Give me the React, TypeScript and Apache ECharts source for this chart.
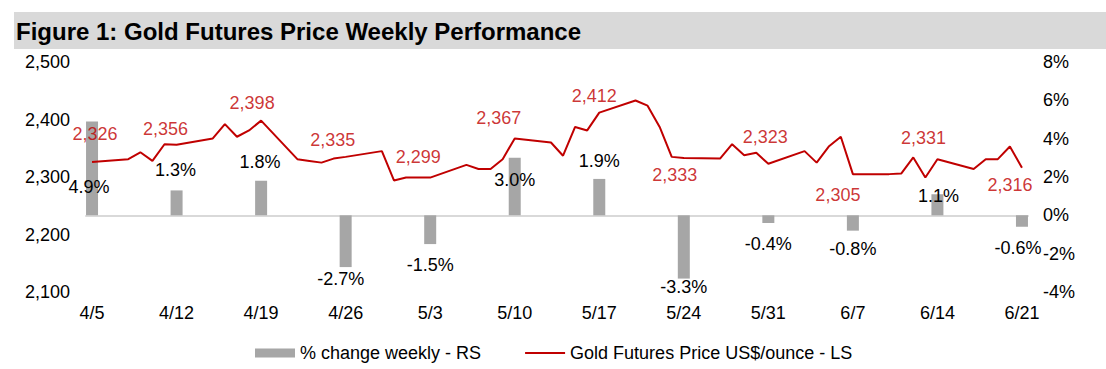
import React, { useEffect, useRef } from "react";
import * as echarts from "echarts";

// ---- Data ----
const START_DATE = [2024, 3, 5]; // 5 April 2024
const END_DATE = [2024, 5, 21]; // 21 June 2024

const priceDates = [
  "4/5", "4/8", "4/9", "4/10", "4/11", "4/12",
  "4/15", "4/16", "4/17", "4/18", "4/19",
  "4/22", "4/23", "4/24", "4/25", "4/26",
  "4/29", "4/30", "5/1", "5/2", "5/3",
  "5/6", "5/7", "5/8", "5/9", "5/10",
  "5/13", "5/14", "5/15", "5/16", "5/17",
  "5/20", "5/21", "5/22", "5/23", "5/24",
  "5/27", "5/28", "5/29", "5/30", "5/31",
  "6/3", "6/4", "6/5", "6/6", "6/7",
  "6/10", "6/11", "6/12", "6/13", "6/14",
  "6/17", "6/18", "6/19", "6/20", "6/21",
];
const prices = [
  2326, 2331, 2343, 2328, 2357, 2356,
  2367, 2392, 2370, 2381, 2398,
  2331, 2328, 2325, 2332, 2335,
  2345, 2294, 2299, 2299, 2299,
  2321, 2314, 2314, 2331, 2367,
  2360, 2337, 2387, 2381, 2412,
  2433, 2424, 2387, 2335, 2333,
  2332, 2357, 2338, 2342, 2323,
  2345, 2325, 2353, 2370, 2305,
  2305, 2306, 2334, 2299, 2331,
  2314, 2331, 2331, 2353, 2316,
];

const weekLabels = ["4/5", "4/12", "4/19", "4/26", "5/3", "5/10", "5/17", "5/24", "5/31", "6/7", "6/14", "6/21"];
const weeklyChange = [4.9, 1.3, 1.8, -2.7, -1.5, 3.0, 1.9, -3.3, -0.4, -0.8, 1.1, -0.6];

const leftTicks = { min: 2100, max: 2500, interval: 100 };
const rightTicks = { min: -4, max: 8, interval: 2 };

// ---- Label placement (style, not data) ----
const LINE_LABEL_OFFSETS = [
  [3, -28], [-11, -16], [-9, -18], [-13, -17], [-12, -21], [-16, -20],
  [-5, -17], [-9, 17], [-3, -27], [-15, 21], [-14, -21], [-12, 17],
];
const BAR_LABEL_OFFSETS = [
  [-3, 75], [-1, -11], [-1, -10], [-5, 3], [0, 12], [0, 31],
  [0, -9], [0, -1], [0, 12], [0, 9], [1, 11], [-4, 12],
];

const FONT = '"Liberation Sans", Arial, Helvetica, sans-serif';
const RED = "#C00000";
const GREY_BAR = "#A6A6A6";

function buildDays(): string[] {
  const out: string[] = [];
  const d = new Date(START_DATE[0], START_DATE[1], START_DATE[2]);
  const end = new Date(END_DATE[0], END_DATE[1], END_DATE[2]);
  while (d.getTime() <= end.getTime()) {
    out.push(`${d.getMonth() + 1}/${d.getDate()}`);
    d.setDate(d.getDate() + 1);
  }
  return out;
}

export default function App() {
  const ref = useRef<HTMLDivElement>(null);

  useEffect(() => {
    if (!ref.current) return;
    const chart = echarts.init(ref.current, undefined, { renderer: "svg" });

    const days = buildDays();
    const priceMap: Record<string, number> = {};
    priceDates.forEach((d, i) => (priceMap[d] = prices[i]));

    const lineData = days.map((d) => (d in priceMap ? priceMap[d] : null));

    const barData = days.map((d) => {
      const w = weekLabels.indexOf(d);
      if (w < 0) return null;
      const v = weeklyChange[w];
      return {
        value: v,
        label: {
          position: v >= 0 ? "top" : "bottom",
          offset: BAR_LABEL_OFFSETS[w],
        },
      };
    });

    const labelData = weekLabels.map((d, w) => ({
      value: [days.indexOf(d), priceMap[d]],
      label: { offset: LINE_LABEL_OFFSETS[w] },
    }));

    const option: any = {
      animation: false,
      textStyle: { fontFamily: FONT },
      graphic: [
        {
          type: "rect",
          shape: { x: 14, y: 12, width: 1092, height: 37 },
          style: { fill: "#D9D9D9" },
          silent: true,
        },
        {
          type: "text",
          x: 16,
          y: 31,
          style: {
            text: "Figure 1: Gold Futures Price Weekly Performance",
            fontSize: 24,
            fontWeight: "bold",
            fontFamily: FONT,
            fill: "#000",
            verticalAlign: "middle",
          },
          silent: true,
        },
      ],
      grid: { left: 86, right: 78, top: 62, bottom: 77, containLabel: false },
      legend: {
        left: 250,
        top: 339,
        itemWidth: 40,
        itemHeight: 9,
        itemGap: 44,
        textStyle: { fontSize: 18, color: "#000", fontFamily: FONT },
        data: [
          { name: "% change weekly - RS", icon: "rect" },
          { name: "Gold Futures Price US$/ounce - LS", icon: "path://M0,0L40,0L40,2L0,2Z" },
        ],
      },
      xAxis: {
        type: "category",
        data: days,
        boundaryGap: true,
        axisLine: { show: true, lineStyle: { color: "#D9D9D9", width: 2 } },
        axisTick: { show: false },
        axisLabel: {
          interval: 6,
          fontSize: 18,
          color: "#000",
          margin: 12,
          fontFamily: FONT,
        },
        splitLine: { show: false },
      },
      yAxis: [
        {
          type: "value",
          min: leftTicks.min,
          max: leftTicks.max,
          interval: leftTicks.interval,
          axisLine: { show: false },
          axisTick: { show: false },
          splitLine: { show: false },
          axisLabel: {
            fontSize: 18,
            color: "#000",
            margin: 16,
            fontFamily: FONT,
            formatter: (v: number) => v.toLocaleString("en-US"),
          },
        },
        {
          type: "value",
          min: rightTicks.min,
          max: rightTicks.max,
          interval: rightTicks.interval,
          axisLine: { show: false },
          axisTick: { show: false },
          splitLine: { show: false },
          axisLabel: {
            fontSize: 18,
            color: "#000",
            margin: 15,
            fontFamily: FONT,
            formatter: "{value}%",
          },
        },
      ],
      series: [
        {
          name: "% change weekly - RS",
          type: "bar",
          yAxisIndex: 1,
          barWidth: 12,
          data: barData,
          itemStyle: { color: GREY_BAR },
          label: {
            show: true,
            distance: 0,
            fontSize: 18,
            color: "#000",
            fontFamily: FONT,
            formatter: (p: any) => `${Number(p.value).toFixed(1)}%`,
          },
          z: 1,
        },
        {
          name: "Gold Futures Price US$/ounce - LS",
          type: "line",
          yAxisIndex: 0,
          data: lineData,
          connectNulls: true,
          showSymbol: false,
          symbol: "none",
          lineStyle: { color: RED, width: 2 },
          itemStyle: { color: RED },
          z: 3,
        },
        {
          name: "weekly close labels",
          type: "scatter",
          yAxisIndex: 0,
          data: labelData,
          symbolSize: 1,
          itemStyle: { color: "rgba(0,0,0,0)" },
          silent: true,
          label: {
            show: true,
            position: "inside",
            fontSize: 18,
            color: RED,
            fontFamily: FONT,
            formatter: (p: any) => Number(p.value[1]).toLocaleString("en-US"),
          },
          z: 4,
        },
      ],
    };

    chart.setOption(option);
    return () => chart.dispose();
  }, []);

  return (
    <div
      ref={ref}
      style={{ position: "absolute", left: 0, top: 0, width: 1106, height: 369, background: "#fff" }}
    />
  );
}
